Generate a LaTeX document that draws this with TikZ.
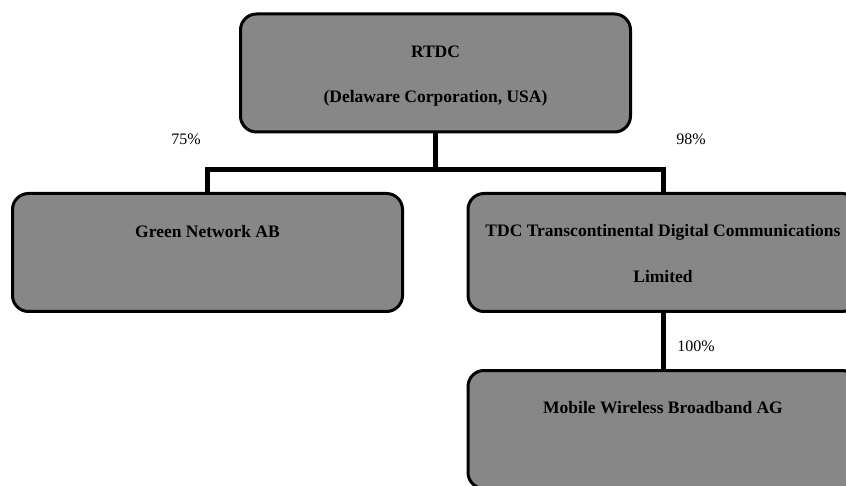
\documentclass[tikz,border=0pt]{standalone}
\usepackage{fontspec}
\setmainfont{Liberation Serif}
\begin{document}
\begin{tikzpicture}[x=1pt,y=-1pt,
  orgbox/.style={draw=black, line width=3pt, fill=black!47, rounded corners=16pt,
    minimum width=390pt, minimum height=118pt, inner sep=0pt},
  boxtext/.style={font=\fontsize{17.5}{19}\selectfont\bfseries, text=black, inner sep=0pt},
  pct/.style={font=\fontsize{16}{18}\selectfont, text=black, inner sep=0pt},
  link/.style={draw=black, line width=5pt}]
\useasboundingbox (0,0) rectangle (846,486);
\clip (0,0) rectangle (846,486);
% boxes
\node[orgbox] (top) at (435.5,73) {};
\node[orgbox] (green) at (207.5,252.5) {};
\node[orgbox] (tdc) at (663,252.5) {};
\node[orgbox] (mob) at (663,429.5) {};
% connectors
\coordinate (j) at (435.5,170);
\draw[link] (top.south) -- (j);
\draw[link] (green.north) |- (j) -| (tdc.north);
\draw[link] (tdc.south) -- (mob.north);
% texts
\node[boxtext] (t1) at (435.5,52) {RTDC};
\node[boxtext] (t2) at (435.5,98) {(Delaware Corporation, USA)};
\node[boxtext] (g1) at (207.5,232) {Green Network AB};
\node[boxtext] (d1) at (663,232) {TDC Transcontinental Digital Communications};
\node[boxtext] (d2) at (663,277) {Limited};
\node[boxtext] (m1) at (663,408) {Mobile Wireless Broadband AG};
% percentages
\node[pct] (p75) at (186,139) {75\%};
\node[pct] (p98) at (691,139) {98\%};
\node[pct] (p100) at (696,346) {100\%};
\end{tikzpicture}
\end{document}
